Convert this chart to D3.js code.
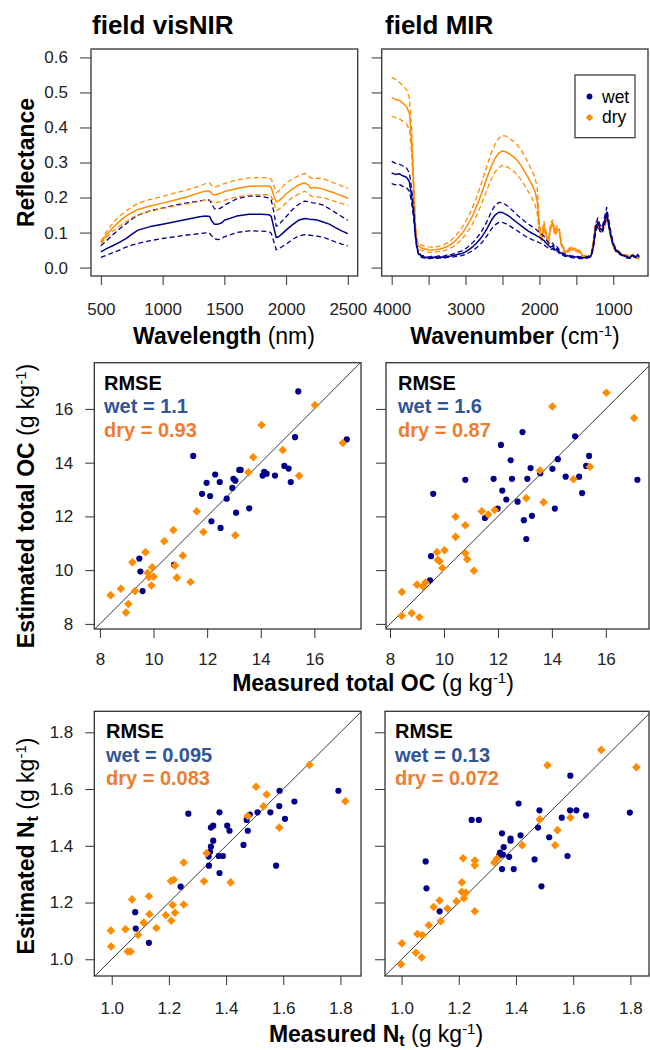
<!DOCTYPE html>
<html><head><meta charset="utf-8">
<script src="https://cdn.jsdelivr.net/npm/d3@7"></script>
<style>body{margin:0;background:#fff}svg{display:block}</style>
</head><body><svg id="c" width="650" height="1050"></svg>
<script>
// ---------------- DATA ----------------
const visWl = [500,550,600,650,700,750,800,900,1000,1100,1200,1300,1350,1380,1400,1420,1450,1480,1500,1600,1700,1800,1860,1880,1900,1920,1940,1960,2000,2050,2100,2150,2180,2200,2220,2250,2300,2350,2400,2450,2500];
const visWetMean = [.045,.055,.063,.072,.082,.095,.107,.117,.124,.131,.138,.145,.147,.146,.132,.124,.124,.128,.135,.147,.152,.152,.151,.146,.115,.086,.088,.094,.107,.122,.135,.140,.139,.137,.137,.136,.130,.124,.114,.105,.097];
const visWetHi = [.062,.078,.095,.110,.124,.138,.150,.162,.170,.178,.185,.190,.193,.193,.180,.168,.167,.172,.178,.196,.205,.203,.199,.192,.160,.118,.122,.130,.145,.165,.180,.190,.188,.186,.185,.184,.178,.168,.157,.146,.135];
const visWetLo = [.029,.036,.043,.050,.058,.064,.069,.077,.083,.088,.093,.097,.099,.098,.090,.082,.080,.083,.088,.100,.105,.104,.103,.098,.075,.051,.053,.058,.067,.080,.090,.094,.093,.092,.091,.090,.087,.080,.073,.067,.062];
const visDryMean = [.073,.095,.115,.132,.146,.157,.166,.176,.184,.193,.202,.214,.219,.219,.210,.207,.210,.214,.217,.226,.232,.233,.233,.228,.205,.188,.190,.196,.210,.224,.236,.242,.236,.226,.229,.228,.224,.218,.212,.205,.198];
const visDryHi = [.075,.105,.128,.147,.160,.173,.183,.195,.203,.213,.222,.233,.240,.242,.233,.229,.233,.237,.240,.250,.256,.257,.257,.252,.235,.214,.218,.226,.242,.252,.262,.269,.262,.256,.254,.255,.254,.247,.240,.233,.226];
const visDryLo = [.068,.088,.105,.118,.130,.142,.151,.161,.169,.176,.182,.189,.193,.194,.188,.185,.187,.189,.192,.202,.207,.208,.208,.203,.185,.163,.166,.172,.185,.200,.210,.218,.212,.205,.202,.202,.200,.194,.188,.183,.177];

const mirWn = [4000,3950,3900,3850,3800,3760,3730,3700,3680,3660,
 3640,3600,3550,3500,3450,3400,3350,3300,3250,3200,
 3150,3100,3050,3000,2950,2900,2850,2800,2750,2700,
 2650,2600,2550,2500,2450,2400,2350,2300,2250,2200,
 2150,2100,2060,2030,2000,1970,1940,1910,1880,1850,
 1820,1790,1760,1730,1700,1660,1620,1580,1540,1500,
 1460,1420,1380,1340,1300,1270,1240,1210,1180,1150,
 1120,1090,1060,1030,1000,970,940,900,860,820,
 780,740,700,670,650];
const mirWetMean = [.270,.266,.268,.262,.258,.245,.205,.150,.095,.060,
 .042,.032,.030,.027,.030,.028,.031,.029,.032,.033,
 .035,.038,.040,.045,.052,.060,.070,.082,.097,.115,
 .135,.150,.158,.157,.152,.145,.136,.128,.120,.112,
 .104,.098,.094,.090,.086,.082,.078,.070,.064,.058,
 .062,.050,.054,.044,.040,.036,.034,.032,.031,.030,
 .029,.028,.028,.030,.034,.060,.110,.130,.112,.105,
 .130,.158,.125,.090,.066,.052,.045,.038,.034,.030,
 .028,.034,.030,.036,.030];
const mirWetHi = [.303,.298,.296,.290,.285,.270,.225,.165,.103,.065,
 .046,.035,.033,.030,.033,.031,.034,.032,.036,.037,
 .040,.044,.048,.054,.062,.072,.084,.098,.116,.136,
 .160,.178,.186,.185,.179,.170,.160,.150,.141,.132,
 .124,.117,.112,.106,.100,.096,.090,.080,.072,.065,
 .070,.057,.060,.050,.044,.039,.036,.034,.033,.032,
 .031,.030,.030,.032,.037,.068,.122,.142,.122,.115,
 .142,.172,.136,.098,.071,.056,.048,.040,.036,.032,
 .030,.036,.032,.038,.032];
const mirWetLo = [.240,.236,.238,.232,.228,.218,.185,.135,.088,.056,
 .039,.029,.027,.025,.027,.025,.028,.026,.029,.030,
 .031,.033,.034,.038,.043,.049,.057,.066,.079,.094,
 .110,.122,.129,.129,.125,.119,.112,.105,.098,.091,
 .085,.080,.077,.074,.071,.068,.065,.060,.056,.051,
 .055,.045,.048,.040,.036,.033,.031,.029,.028,.027,
 .026,.026,.026,.028,.031,.054,.100,.120,.104,.097,
 .120,.145,.116,.083,.061,.048,.042,.036,.032,.028,
 .026,.032,.028,.034,.028];
const mirDryMean = [.485,.480,.478,.470,.460,.440,.360,.220,.120,.078,
 .062,.056,.053,.051,.050,.051,.053,.056,.060,.066,
 .074,.085,.097,.112,.130,.150,.175,.202,.232,.262,
 .290,.312,.327,.333,.330,.324,.316,.306,.292,.274,
 .256,.236,.218,.190,.110,.080,.122,.095,.068,.118,
 .128,.098,.112,.104,.064,.048,.044,.056,.050,.052,
 .046,.036,.032,.030,.032,.075,.120,.126,.110,.112,
 .122,.146,.118,.085,.062,.050,.046,.040,.036,.034,
 .032,.036,.030,.028,.026];
const mirDryHi = [.542,.538,.530,.520,.508,.485,.395,.240,.130,.086,
 .070,.064,.061,.059,.058,.059,.061,.065,.070,.077,
 .087,.100,.114,.131,.151,.174,.201,.231,.264,.297,
 .328,.352,.370,.377,.375,.368,.360,.350,.336,.318,
 .298,.276,.256,.230,.130,.090,.132,.103,.074,.126,
 .136,.105,.120,.110,.069,.052,.048,.061,.054,.056,
 .050,.039,.034,.032,.034,.080,.128,.134,.117,.119,
 .130,.154,.125,.090,.066,.053,.049,.043,.038,.036,
 .034,.038,.032,.030,.028];
const mirDryLo = [.432,.428,.425,.418,.410,.395,.325,.200,.110,.071,
 .055,.049,.046,.044,.043,.044,.046,.048,.051,.056,
 .062,.071,.081,.094,.109,.127,.149,.173,.200,.228,
 .253,.273,.286,.292,.289,.283,.275,.265,.251,.235,
 .217,.198,.180,.155,.095,.072,.112,.087,.062,.110,
 .120,.091,.104,.098,.059,.044,.040,.051,.046,.048,
 .042,.033,.030,.028,.030,.070,.112,.118,.103,.105,
 .114,.138,.111,.080,.058,.047,.043,.037,.034,.032,
 .030,.034,.028,.026,.024];

// scatter: [measured, estimated]
const ocVisWet = [[15.40,16.65],[15.28,14.95],[17.21,14.87],[11.48,14.25],[12.30,13.56],[11.98,13.25],[12.47,13.28],[11.81,12.84],[12.11,12.76],[12.73,12.66],[12.94,13.06],[12.98,13.40],[13.05,13.33],[13.20,13.73],[13.25,13.73],[14.07,13.52],[14.13,13.66],[14.22,13.59],[14.53,13.52],[14.88,13.88],[15.04,13.78],[15.12,13.28],[13.08,12.14],[13.57,12.30],[12.16,11.82],[12.50,11.57],[10.76,10.20],[9.47,10.43],[9.51,9.95],[9.59,9.22]];
const ocVisDry = [[16.02,16.14],[14.03,15.40],[14.82,14.47],[13.72,14.20],[17.06,14.73],[13.54,13.64],[15.43,13.51],[11.61,12.19],[11.86,11.42],[13.05,11.30],[10.74,11.49],[10.40,11.08],[11.09,10.54],[9.70,10.67],[9.21,10.29],[9.95,10.11],[10.80,10.17],[9.78,9.90],[9.83,9.74],[10.00,9.76],[10.87,9.72],[11.38,9.56],[9.92,9.43],[8.78,9.31],[9.31,9.22],[8.40,9.07],[9.06,8.74],[8.97,8.42]];
const ocMirWet = [[12.91,15.14],[14.86,14.98],[12.11,14.66],[12.47,14.09],[14.22,14.13],[15.38,14.25],[13.21,13.80],[14.02,13.77],[13.57,13.61],[15.27,13.88],[10.79,13.36],[11.84,13.40],[12.52,13.40],[13.09,13.40],[14.51,13.48],[15.01,13.48],[17.17,13.36],[9.60,12.84],[12.16,12.96],[12.31,12.63],[12.73,12.55],[15.12,12.87],[11.99,12.29],[14.11,12.29],[11.52,11.94],[12.96,11.86],[13.26,12.02],[13.05,11.16],[9.52,10.52],[9.48,9.62]];
const ocMirDry = [[16.02,16.60],[14.02,16.09],[17.05,15.66],[15.41,13.85],[13.56,13.71],[14.80,13.38],[13.05,12.68],[13.69,12.53],[11.40,12.19],[11.64,12.07],[11.88,12.24],[10.43,11.99],[10.79,11.67],[10.43,11.24],[9.74,10.67],[10.02,10.74],[9.77,10.38],[9.84,10.33],[10.79,10.63],[10.86,10.41],[9.94,10.08],[11.11,9.98],[9.00,9.46],[9.22,9.39],[9.31,9.54],[8.44,9.19],[8.43,8.30],[8.80,8.40],[9.09,8.25]];
const ntVisWet = [[1.793,1.594],[1.587,1.594],[1.586,1.540],[1.639,1.556],[1.555,1.518],[1.606,1.495],[1.510,1.518],[1.483,1.510],[1.472,1.491],[1.476,1.453],[1.461,1.403],[1.377,1.518],[1.268,1.513],[1.404,1.471],[1.412,1.453],[1.355,1.471],[1.347,1.464],[1.355,1.418],[1.347,1.397],[1.344,1.379],[1.339,1.362],[1.374,1.364],[1.389,1.364],[1.340,1.330],[1.377,1.304],[1.575,1.330],[1.241,1.256],[1.082,1.166],[1.084,1.108],[1.130,1.058]];
const ntVisDry = [[1.692,1.685],[1.505,1.608],[1.542,1.581],[1.817,1.557],[1.531,1.539],[1.476,1.505],[1.586,1.464],[1.332,1.374],[1.252,1.341],[1.207,1.276],[1.217,1.280],[1.323,1.275],[1.416,1.271],[1.252,1.193],[1.213,1.191],[1.221,1.164],[1.189,1.155],[1.208,1.136],[1.130,1.222],[1.071,1.211],[1.132,1.159],[1.112,1.129],[1.156,1.110],[1.048,1.106],[0.997,1.101],[1.092,1.086],[0.998,1.045],[1.056,1.027],[1.066,1.027]];
const ntMirWet = [[1.590,1.647],[1.409,1.549],[1.482,1.525],[1.589,1.525],[1.611,1.525],[1.560,1.499],[1.645,1.507],[1.798,1.517],[1.245,1.491],[1.270,1.491],[1.477,1.464],[1.351,1.444],[1.416,1.437],[1.381,1.425],[1.381,1.418],[1.516,1.430],[1.357,1.395],[1.344,1.376],[1.354,1.369],[1.341,1.365],[1.376,1.361],[1.465,1.352],[1.580,1.364],[1.084,1.345],[1.351,1.318],[1.392,1.318],[1.489,1.257],[1.087,1.250],[1.133,1.169]];
const ntMirDry = [[1.698,1.738],[1.510,1.684],[1.821,1.677],[1.483,1.493],[1.590,1.499],[1.545,1.455],[1.422,1.402],[1.537,1.402],[1.215,1.356],[1.256,1.348],[1.256,1.331],[1.324,1.341],[1.334,1.355],[1.211,1.271],[1.210,1.238],[1.225,1.235],[1.218,1.215],[1.192,1.204],[1.133,1.207],[1.112,1.184],[1.160,1.179],[1.256,1.169],[1.137,1.134],[1.095,1.120],[1.055,1.089],[1.073,1.085],[1.001,1.056],[1.050,1.023],[1.070,1.006],[0.998,0.982]];

const visTicks = [500,1000,1500,2000,2500];
const mirTicks = [4000,3500,3000,2500,2000,1500,1000];
const mirLabeled = [4000,3000,2000,1000];
const reflTicks = [0,0.1,0.2,0.3,0.4,0.5,0.6];
const ocTicks = [8,10,12,14,16];
const ntTicks = [1.0,1.2,1.4,1.6,1.8];
const rmseOcVis = ["1.1","0.93"], rmseOcMir = ["1.6","0.87"];
const rmseNtVis = ["0.095","0.083"], rmseNtMir = ["0.13","0.072"];
const seriesNames = ["wet","dry"];

// ---------------- DRAWING ----------------
const FONT = '"Liberation Sans", Arial, Helvetica, sans-serif';
const BLUE = "#00008B", ORANGE = "#FF8C00", TBLUE = "#2F5597", TORANGE = "#ED7D31";
const svg = d3.select("#c").attr("font-family", FONT);
let clipN = 0;

function makePanel(x0, x1, y0, y1, xd, yd) {
  const id = "clip" + (clipN++);
  svg.append("clipPath").attr("id", id).append("rect")
    .attr("x", x0).attr("y", y0).attr("width", x1 - x0).attr("height", y1 - y0);
  return {x0, x1, y0, y1, id,
    x: d3.scaleLinear().domain(xd).range([x0, x1]),
    y: d3.scaleLinear().domain(yd).range([y1, y0])};
}
function box(p) {
  svg.append("rect").attr("x", p.x0).attr("y", p.y0).attr("width", p.x1 - p.x0).attr("height", p.y1 - p.y0)
    .attr("fill", "none").attr("stroke", "#333").attr("stroke-width", 1.3);
}
function styleAxis(g) {
  g.attr("font-family", FONT).attr("font-size", 17);
  g.select(".domain").remove();
  g.selectAll("line").attr("stroke", "#333").attr("stroke-width", 1);
  g.selectAll("text").attr("fill", "#222");
}
function axisBottom(p, vals, fmt, pad) {
  svg.append("g").attr("transform", `translate(0,${p.y1})`)
    .call(d3.axisBottom(p.x).tickValues(vals).tickFormat(fmt).tickSize(9).tickPadding(pad))
    .call(styleAxis);
}
function axisLeft(p, vals, fmt, size, pad) {
  svg.append("g").attr("transform", `translate(${p.x0},0)`)
    .call(d3.axisLeft(p.y).tickValues(vals).tickFormat(fmt).tickSize(size).tickPadding(pad))
    .call(styleAxis);
}
function rich(x, y, parts, size, anchor, rotate) {
  const t = svg.append("text").attr("x", x).attr("y", y).attr("font-size", size)
    .attr("text-anchor", anchor || "middle").attr("fill", "#000");
  if (rotate) t.attr("transform", `rotate(-90 ${x} ${y})`);
  let shift = 0;
  parts.forEach(p => {
    const s = t.append("tspan").text(p.t).attr("font-weight", p.b ? "bold" : "normal");
    const target = p.sup ? -0.36 * size : p.sub ? 0.17 * size : 0;
    s.attr("dy", target - shift); shift = target;
    if (p.sup) s.attr("font-size", size * 0.65);
    if (p.sub) s.attr("font-size", size * 0.7);
  });
  return t;
}
function spectra(p, xs, sets) {
  const g = svg.append("g").attr("clip-path", `url(#${p.id})`);
  sets.forEach(s => {
    const line = d3.line().x((d, i) => p.x(xs[i])).y(d => p.y(d));
    g.append("path").datum(s.v).attr("d", line).attr("fill", "none")
      .attr("stroke", s.c).attr("stroke-width", s.dash ? 1.3 : 1.5)
      .attr("stroke-dasharray", s.dash ? "5,3" : null).attr("stroke-linejoin", "round");
  });
}
function diamond(cx, cy, h) {
  return `M${cx},${cy - h}L${cx + h},${cy}L${cx},${cy + h}L${cx - h},${cy}Z`;
}
function scatter(p, wet, dry, lo, hi) {
  const g = svg.append("g").attr("clip-path", `url(#${p.id})`);
  g.append("line").attr("x1", p.x(lo)).attr("y1", p.y(lo)).attr("x2", p.x(hi)).attr("y2", p.y(hi))
    .attr("stroke", "#222").attr("stroke-width", 0.9);
  g.selectAll(".w").data(wet).join("circle").attr("cx", d => p.x(d[0])).attr("cy", d => p.y(d[1]))
    .attr("r", 3.1).attr("fill", BLUE);
  g.selectAll(".d").data(dry).join("path").attr("d", d => diamond(p.x(d[0]), p.y(d[1]), 4.3))
    .attr("fill", ORANGE);
}
function rmse(x, y0, vals) {
  svg.append("text").attr("x", x).attr("y", y0).attr("font-size", 20).attr("font-weight", "bold").attr("fill", "#000").text("RMSE");
  svg.append("text").attr("x", x).attr("y", y0 + 23.5).attr("font-size", 20).attr("font-weight", "bold").attr("fill", TBLUE).text(`${seriesNames[0]} = ${vals[0]}`);
  svg.append("text").attr("x", x).attr("y", y0 + 47).attr("font-size", 20).attr("font-weight", "bold").attr("fill", TORANGE).text(`${seriesNames[1]} = ${vals[1]}`);
}

// ---- top row: spectra ----
const pVis = makePanel(91, 357.7, 49, 276, [420, 2580], [-0.024, 0.624]);
const pMir = makePanel(381.7, 648, 49, 276, [4135, 530], [-0.024, 0.624]);
spectra(pVis, visWl, [
  {v: visWetHi, c: BLUE, dash: true}, {v: visWetLo, c: BLUE, dash: true}, {v: visWetMean, c: BLUE},
  {v: visDryHi, c: ORANGE, dash: true}, {v: visDryLo, c: ORANGE, dash: true}, {v: visDryMean, c: ORANGE}]);
spectra(pMir, mirWn, [
  {v: mirDryHi, c: ORANGE, dash: true}, {v: mirDryLo, c: ORANGE, dash: true}, {v: mirDryMean, c: ORANGE},
  {v: mirWetHi, c: BLUE, dash: true}, {v: mirWetLo, c: BLUE, dash: true}, {v: mirWetMean, c: BLUE}]);
box(pVis); box(pMir);
axisBottom(pVis, visTicks, d3.format("d"), 18);
axisBottom(pMir, mirTicks, d => mirLabeled.includes(d) ? String(d) : "", 18);
axisLeft(pVis, reflTicks, d3.format(".1f"), 11, 12);
axisLeft(pMir, reflTicks, () => "", 10, 12);

svg.append("text").attr("x", 92).attr("y", 34).attr("font-size", 26).attr("font-weight", "bold").text("field visNIR");
svg.append("text").attr("x", 385).attr("y", 34).attr("font-size", 26).attr("font-weight", "bold").text("field MIR");
rich(34, 162.5, [{t: "Reflectance", b: true}], 23, "middle", true);
rich(224, 344, [{t: "Wavelength", b: true}, {t: " (nm)"}], 23);
rich(515, 344, [{t: "Wavenumber", b: true}, {t: " (cm"}, {t: "-1", sup: true}, {t: ")"}], 23);

// legend
svg.append("rect").attr("x", 575).attr("y", 75).attr("width", 60).attr("height", 62.7)
  .attr("fill", "#fff").attr("stroke", "#333").attr("stroke-width", 1.2);
svg.append("circle").attr("cx", 589.5).attr("cy", 96.5).attr("r", 2.9).attr("fill", BLUE);
svg.append("path").attr("d", diamond(589.5, 117.5, 3.8)).attr("fill", ORANGE);
svg.append("text").attr("x", 602).attr("y", 103).attr("font-size", 17.5).attr("fill", "#000").text(seriesNames[0]);
svg.append("text").attr("x", 602).attr("y", 123).attr("font-size", 17.5).attr("fill", "#000").text(seriesNames[1]);

// ---- middle row: OC ----
const pOcVis = makePanel(94.3, 361, 362.7, 629, [7.79, 17.74], [7.81, 17.72]);
const pOcMir = makePanel(386, 649, 362.7, 629, [7.85, 17.6], [7.81, 17.72]);
scatter(pOcVis, ocVisWet, ocVisDry, 7, 19);
scatter(pOcMir, ocMirWet, ocMirDry, 7, 19);
box(pOcVis); box(pOcMir);
axisBottom(pOcVis, ocTicks, d3.format("d"), 15);
axisBottom(pOcMir, ocTicks, d3.format("d"), 15);
axisLeft(pOcVis, ocTicks, d3.format("d"), 9, 12);
axisLeft(pOcMir, ocTicks, () => "", 10, 12);
rmse(104, 389.5, rmseOcVis);
rmse(398, 389.5, rmseOcMir);
rich(34, 506, [{t: "Estimated total OC", b: true}, {t: " (g kg"}, {t: "-1", sup: true}, {t: ")"}], 23, "middle", true);
rich(373, 691, [{t: "Measured total OC", b: true}, {t: " (g kg"}, {t: "-1", sup: true}, {t: ")"}], 23);

// ---- bottom row: Nt ----
const pNtVis = makePanel(94.3, 361, 711.3, 976, [0.939, 1.872], [0.941, 1.874]);
const pNtMir = makePanel(385, 649, 711.3, 976, [0.942, 1.865], [0.941, 1.874]);
scatter(pNtVis, ntVisWet, ntVisDry, 0.8, 2);
scatter(pNtMir, ntMirWet, ntMirDry, 0.8, 2);
box(pNtVis); box(pNtMir);
axisBottom(pNtVis, ntTicks, d3.format(".1f"), 17);
axisBottom(pNtMir, ntTicks, d3.format(".1f"), 17);
axisLeft(pNtVis, ntTicks, d3.format(".1f"), 9, 12);
axisLeft(pNtMir, ntTicks, () => "", 10, 12);
rmse(106, 738, rmseNtVis);
rmse(395, 738, rmseNtMir);
rich(34, 846, [{t: "Estimated N", b: true}, {t: "t", b: true, sub: true}, {t: " (g kg"}, {t: "-1", sup: true}, {t: ")"}], 23, "middle", true);
rich(376, 1042, [{t: "Measured N", b: true}, {t: "t", b: true, sub: true}, {t: " (g kg"}, {t: "-1", sup: true}, {t: ")"}], 23);
</script></body></html>
